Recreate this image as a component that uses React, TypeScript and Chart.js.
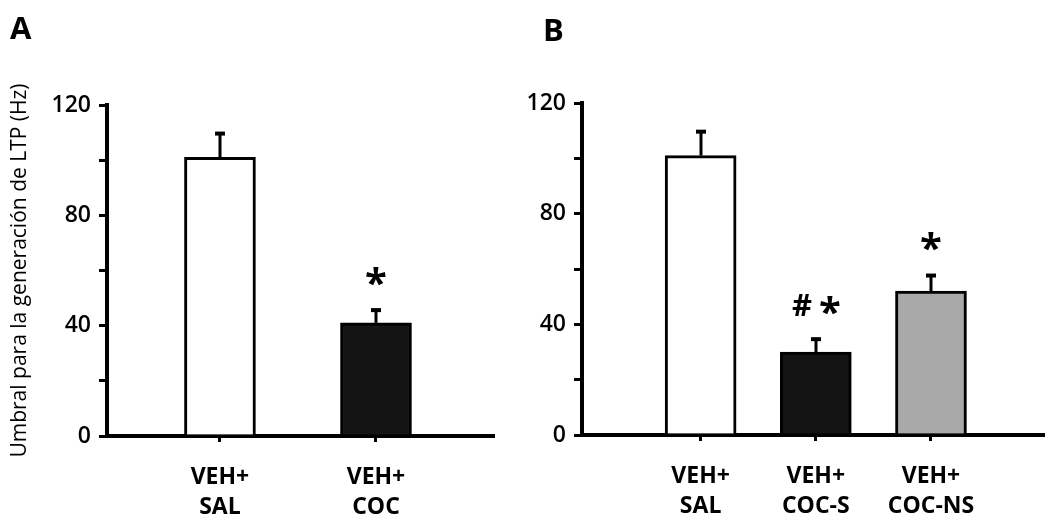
import React, { useEffect, useRef } from 'react';
import { Chart, registerables } from 'chart.js';

Chart.register(...registerables);

// ---- Data ----
const categoriesA: string[][] = [['VEH+', 'SAL'], ['VEH+', 'COC']];
const meansA = [101, 41];
const semA = [9, 5];
const marksA = ['', '*'];
const coloursA = ['#ffffff', '#141414'];

const categoriesB: string[][] = [['VEH+', 'SAL'], ['VEH+', 'COC-S'], ['VEH+', 'COC-NS']];
const meansB = [101, 30, 52];
const semB = [9, 5, 6];
const marksB = ['', '#*', '*'];
const coloursB = ['#ffffff', '#141414', '#a9a9a9'];

const yTickValues = [0, 20, 40, 60, 80, 100, 120];
const yLabelledTicks = [0, 40, 80, 120];
const yTitleText = 'Umbral para la generación de LTP (Hz)';

const FONT = "'Open Sans', 'DejaVu Sans', sans-serif";

type Panel = {
  letter: string;
  letterX: number;
  letterBaseline: number;
  cats: string[][];
  means: number[];
  sems: number[];
  marks: string[];
  colours: string[];
  width: number;
  height: number;
  padRight: number;
  yWidth: number;
  chartTop: number;
  chartBottom: number;
  xMin: number;
  xMax: number;
  showYTitle: boolean;
};

const panelA: Panel = {
  letter: 'A', letterX: 10, letterBaseline: 39,
  cats: categoriesA, means: meansA, sems: semA, marks: marksA, colours: coloursA,
  width: 520, height: 520, padRight: 27, yWidth: 107, chartTop: 105, chartBottom: 436,
  xMin: 0.276, xMax: 2.75, showYTitle: true,
};

const panelB: Panel = {
  letter: 'B', letterX: 23, letterBaseline: 41,
  cats: categoriesB, means: meansB, sems: semB, marks: marksB, colours: coloursB,
  width: 525, height: 520, padRight: 0, yWidth: 62, chartTop: 103, chartBottom: 435,
  xMin: -0.03, xMax: 3.99, showYTitle: false,
};

const glyphFont = (ch: string) => (ch === '*' ? `bold 40px ${FONT}` : `bold 31px ${FONT}`);

function errorPlugin(p: Panel) {
  return {
    id: 'errorsAndMarks',
    afterDatasetsDraw(chart: any) {
      const { ctx } = chart;
      const x = chart.scales.x;
      const y = chart.scales.y;
      ctx.save();
      p.means.forEach((m, i) => {
        const px = Math.round(x.getPixelForValue(i + 1));
        const yBar = y.getPixelForValue(m);
        const yTop = y.getPixelForValue(m + p.sems[i]);
        ctx.strokeStyle = '#000';
        ctx.lineWidth = 3;
        ctx.beginPath();
        ctx.moveTo(px, yBar);
        ctx.lineTo(px, yTop);
        ctx.stroke();
        ctx.fillStyle = '#000';
        ctx.fillRect(px - 5, yTop - 1, 10, 4);

        const mark = p.marks[i];
        if (mark) {
          const chars = mark.split('');
          const gap = 8;
          const metrics = chars.map((c) => {
            ctx.font = glyphFont(c);
            return ctx.measureText(c);
          });
          const widths = metrics.map((mt: any) => mt.actualBoundingBoxLeft + mt.actualBoundingBoxRight);
          const total = widths.reduce((a: number, b: number) => a + b, 0) + gap * (chars.length - 1);
          let cursor = px - total / 2;
          const cy = yTop - 33;
          ctx.textAlign = 'left';
          ctx.textBaseline = 'alphabetic';
          chars.forEach((c, k) => {
            const mt: any = metrics[k];
            ctx.font = glyphFont(c);
            const baseline = cy + (mt.actualBoundingBoxAscent - mt.actualBoundingBoxDescent) / 2;
            ctx.fillText(c, cursor + mt.actualBoundingBoxLeft, baseline);
            cursor += widths[k] + gap;
          });
        }
      });
      ctx.restore();
    },
  };
}

function letterPlugin(p: Panel) {
  return {
    id: 'panelLetter',
    afterDraw(chart: any) {
      const { ctx } = chart;
      ctx.save();
      ctx.fillStyle = '#000';
      ctx.font = `bold 31px ${FONT}`;
      ctx.textAlign = 'left';
      ctx.textBaseline = 'alphabetic';
      ctx.fillText(p.letter, p.letterX, p.letterBaseline);
      ctx.restore();
    },
  };
}

function makeConfig(p: Panel): any {
  return {
    type: 'bar',
    data: {
      datasets: [
        {
          data: p.means.map((m, i) => ({ x: i + 1, y: m })),
          backgroundColor: p.colours,
          borderColor: '#000',
          borderWidth: 3,
          barThickness: 71,
        },
      ],
    },
    options: {
      responsive: false,
      maintainAspectRatio: false,
      animation: false,
      devicePixelRatio: 1,
      layout: { padding: { left: 0, right: p.padRight, top: p.chartTop, bottom: 0 } },
      plugins: {
        legend: { display: false },
        tooltip: { enabled: false },
        title: { display: false },
      },
      scales: {
        x: {
          type: 'linear',
          min: p.xMin,
          max: p.xMax,
          offset: false,
          z: 1,
          afterBuildTicks: (s: any) => {
            s.ticks = p.cats.map((_, i) => ({ value: i + 1 }));
          },
          ticks: {
            callback: (v: number) => p.cats[Math.round(v) - 1] ?? '',
            autoSkip: false,
            maxRotation: 0,
            minRotation: 0,
            padding: 20,
            color: '#000',
            font: { family: FONT, size: 23, weight: 'bold', lineHeight: 1.32 },
          },
          grid: { offset: false, drawOnChartArea: false, drawTicks: true, tickLength: 6, lineWidth: 3, color: '#000' },
          border: { display: true, color: '#000', width: 4 },
          afterFit: (s: any) => {
            s.height = p.height - p.chartBottom;
          },
        },
        y: {
          type: 'linear',
          min: 0,
          max: 120,
          z: 1,
          afterBuildTicks: (s: any) => {
            s.ticks = yTickValues.map((v) => ({ value: v }));
          },
          ticks: {
            callback: (v: number) => (yLabelledTicks.includes(v) ? String(v) : ''),
            padding: 8,
            color: '#000',
            font: { family: FONT, size: 23, weight: '600' },
          },
          grid: { drawOnChartArea: false, drawTicks: true, tickLength: 8, lineWidth: 3, color: '#000' },
          border: { display: true, color: '#000', width: 4 },
          title: {
            display: p.showYTitle,
            text: yTitleText,
            color: '#000',
            font: { family: FONT, size: 21, weight: 'normal', lineHeight: 1.0 },
            padding: { top: 10, bottom: 0 },
          },
          afterFit: (s: any) => {
            s.width = p.yWidth;
          },
        },
      },
    },
    plugins: [errorPlugin(p), letterPlugin(p)],
  };
}

function PanelChart({ p, left }: { p: Panel; left: number }) {
  const ref = useRef<HTMLCanvasElement | null>(null);
  useEffect(() => {
    if (!ref.current) return;
    const chart = new Chart(ref.current, makeConfig(p));
    return () => chart.destroy();
  }, [p]);
  return (
    <canvas
      ref={ref}
      width={p.width}
      height={p.height}
      style={{ position: 'absolute', left, top: 0, width: p.width, height: p.height }}
    />
  );
}

export default function App() {
  return (
    <div
      style={{
        position: 'fixed',
        left: 0,
        top: 0,
        width: 1045,
        height: 520,
        background: '#ffffff',
        overflow: 'hidden',
      }}
    >
      <PanelChart p={panelA} left={0} />
      <PanelChart p={panelB} left={520} />
    </div>
  );
}
